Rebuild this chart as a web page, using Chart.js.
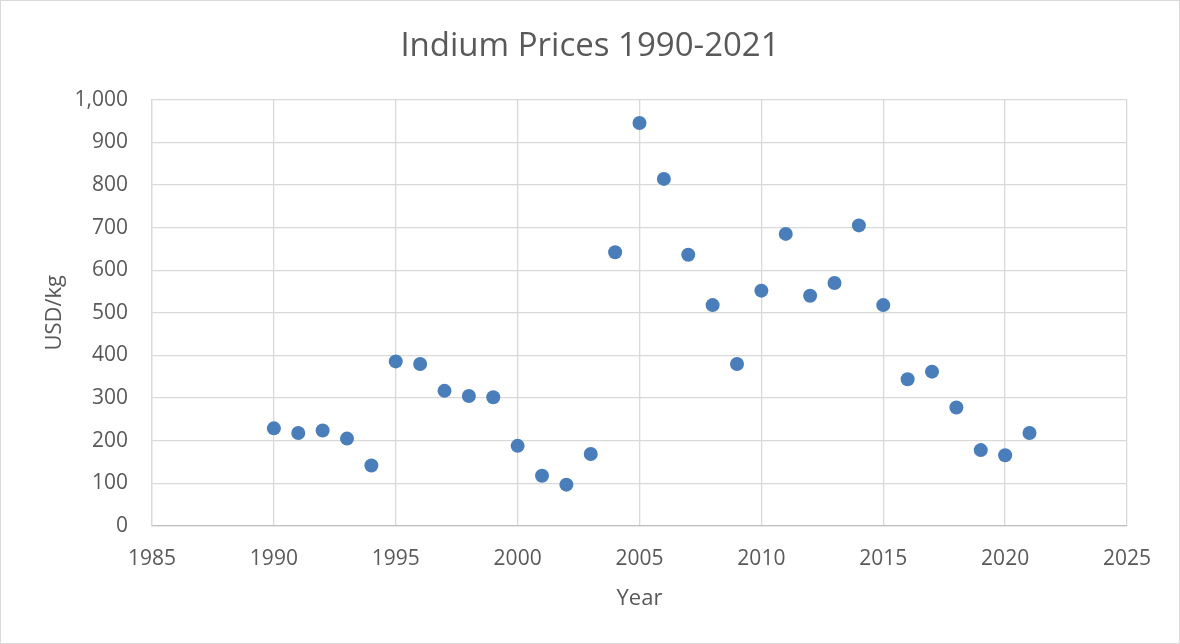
<!DOCTYPE html>
<html>
<head>
<meta charset="utf-8">
<title>Indium Prices 1990-2021</title>
<script src="https://cdn.jsdelivr.net/npm/chart.js@4/dist/chart.umd.min.js"></script>
<style>
  body { margin: 0; background: #fff; }
  #wrap { width: 1180px; height: 644px; box-sizing: border-box; border: 1px solid #d9d9d9; }
  canvas { display: block; }
</style>
</head>
<body>
<div id="wrap"><canvas id="chart" width="1178" height="642"></canvas></div>
<script>
const years = [
  1990, 1991, 1992, 1993, 1994, 1995, 1996, 1997, 1998, 1999, 2000,
  2001, 2002, 2003, 2004, 2005, 2006, 2007, 2008, 2009, 2010,
  2011, 2012, 2013, 2014, 2015, 2016, 2017, 2018, 2019, 2020, 2021
]
const prices = [
  229, 218, 224, 205, 142, 386, 380, 317, 305, 302, 188,
  118, 97, 169, 642, 945, 814, 636, 518, 380, 552,
  685, 540, 570, 705, 518, 344, 362, 278, 178, 166, 218
]
const xTicks = [1985, 1990, 1995, 2000, 2005, 2010, 2015, 2020, 2025]
const yTicks = [0, 100, 200, 300, 400, 500, 600, 700, 800, 900, 1000]

const textColor = '#595959'
const gridColor = '#d9d9d9'
const font = 'Open Sans'

const points = years.map((y, i) => ({ x: y, y: prices[i] }))

new Chart(document.getElementById('chart'), {
  type: 'scatter',
  data: {
    datasets: [{
      label: 'Indium price',
      data: points,
      backgroundColor: '#4a7ebb',
      borderColor: '#4a7ebb',
      borderWidth: 0,
      pointRadius: 7,
      pointHoverRadius: 7
    }]
  },
  options: {
    responsive: false,
    animation: false,
    events: [],
    layout: { padding: 0 },
    plugins: {
      legend: { display: false },
      tooltip: { enabled: false },
      title: {
        display: true,
        text: 'Indium Prices 1990-2021',
        color: textColor,
        font: { family: font, size: 33, weight: 'normal' },
        padding: { top: 26, bottom: 33 }
      }
    },
    scales: {
      x: {
        type: 'linear',
        min: xTicks[0],
        max: xTicks[xTicks.length - 1],
        afterBuildTicks: axis => { axis.ticks = xTicks.map(v => ({ value: v })) },
        afterFit: axis => { axis.height = 117 },
        ticks: {
          color: textColor,
          font: { family: font, size: 21 },
          padding: 20,
          maxRotation: 0,
          callback: v => String(v)
        },
        grid: { color: gridColor, lineWidth: 1.3, drawTicks: false },
        border: { color: '#bfbfbf', width: 1.3 },
        title: {
          display: true,
          text: 'Year',
          color: textColor,
          font: { family: font, size: 22 },
          padding: { top: 0, bottom: 31 }
        }
      },
      y: {
        min: yTicks[0],
        max: yTicks[yTicks.length - 1],
        afterBuildTicks: axis => { axis.ticks = yTicks.map(v => ({ value: v })) },
        afterFit: axis => { axis.width = 151 },
        ticks: {
          color: textColor,
          font: { family: font, size: 21 },
          padding: 24,
          callback: v => v.toLocaleString('en-US')
        },
        grid: { color: gridColor, lineWidth: 1.3, drawTicks: false },
        border: { color: gridColor, width: 1.3 },
        title: {
          display: true,
          text: 'USD/kg',
          color: textColor,
          font: { family: font, size: 22 },
          padding: { top: 41, bottom: 0 }
        }
      },
      // empty right-hand strip so the title stays centred on the whole canvas
      yRight: {
        position: 'right',
        display: true,
        afterFit: axis => { axis.width = 52 },
        ticks: { display: false },
        grid: { display: false },
        border: { display: false }
      }
    }
  }
})
</script>
</body>
</html>
